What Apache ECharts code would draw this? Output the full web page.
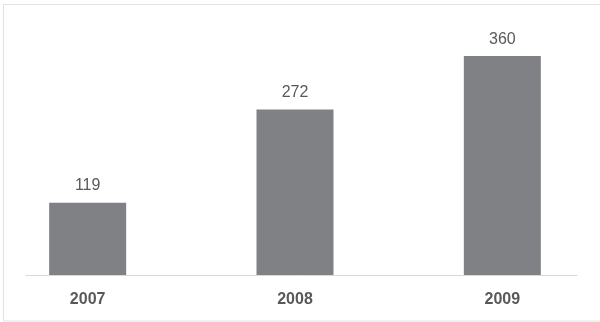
<!DOCTYPE html>
<html><head><meta charset="utf-8">
<script src="https://cdn.jsdelivr.net/npm/echarts@6/dist/echarts.min.js"></script>
<style>html,body{margin:0;padding:0;background:#fff}#c{width:600px;height:322px}</style>
</head><body><div id="c"></div>
<script>
const categories = ['2007', '2008', '2009'];
const values = [119, 272, 360];

const chart = echarts.init(document.getElementById('c'), null, {renderer: 'canvas'});
chart.setOption({
  animation: false,
  backgroundColor: '#ffffff',
  graphic: [{
    type: 'rect', silent: true,
    shape: {x: 3.5, y: 4.5, width: 597, height: 316.5},
    style: {fill: 'none', stroke: '#e2e2e2', lineWidth: 1}
  }],
  grid: [
    {left: -16, width: 622, top: 31.8, bottom: 47, outerBoundsMode: 'none', containLabel: false},
    {left: 26, right: 23, top: 31.8, bottom: 47, outerBoundsMode: 'none', containLabel: false}
  ],
  xAxis: [
    {type: 'category', gridIndex: 0, data: categories,
     axisLine: {show: false}, axisTick: {show: false},
     axisLabel: {color: '#595959', fontSize: 16, fontWeight: 'bold', fontFamily: 'Liberation Sans', margin: 17}},
    {type: 'category', gridIndex: 1, data: categories,
     axisLine: {show: true, lineStyle: {color: '#d9d9d9', width: 1}},
     axisTick: {show: false}, axisLabel: {show: false}}
  ],
  yAxis: [
    {type: 'value', gridIndex: 0, min: 0, max: 400, show: false, splitLine: {show: false}},
    {type: 'value', gridIndex: 1, min: 0, max: 400, show: false, splitLine: {show: false}}
  ],
  series: [{
    type: 'bar', xAxisIndex: 0, yAxisIndex: 0, data: values, barWidth: 77, z: 3,
    itemStyle: {color: '#808184'},
    label: {show: true, position: 'top', distance: 9, color: '#595959', fontSize: 16, fontFamily: 'Liberation Sans'}
  }]
});
</script></body></html>
